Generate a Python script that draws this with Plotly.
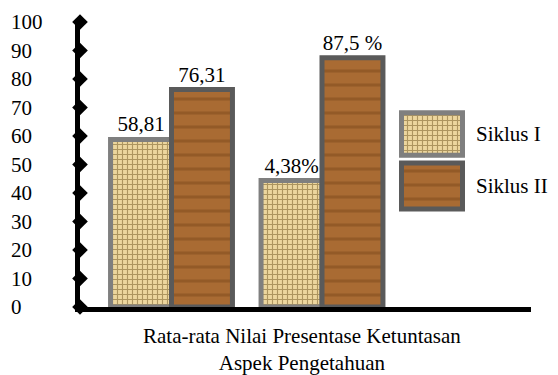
import plotly.graph_objects as go

# ---- data ----
categories = ["Rata-rata Nilai", "Presentase Ketuntasan"]
siklus1_values = [58.81, 44.38]
siklus1_labels = ["58,81", "4,38%"]
siklus2_values = [76.31, 87.5]
siklus2_labels = ["76,31", "87,5 %"]
series_names = ["Siklus I", "Siklus II"]
y_ticks = [0, 10, 20, 30, 40, 50, 60, 70, 80, 90, 100]
x_title = "Rata-rata Nilai Presentase Ketuntasan<br>Aspek Pengetahuan"

W, H = 558, 375
FONT = "Liberation Serif, Times New Roman, serif"
FS = 21

def px_x(p):
    return p / W

def px_y(p):
    return 1 - p / H

# plot-area geometry (pixels)
left, right, top, bottom = 80, 531, 22, 307

s1_pattern = dict(shape="+", fgcolor="#6e5420", bgcolor="#ecd69e", size=5, solidity=0.4)
s2_pattern = dict(shape="-", fgcolor="#7e4a1c", bgcolor="#a96b33", size=14, solidity=0.22)
s1_line = dict(color="#7f7f7f", width=5)
s2_line = dict(color="#5a5a5a", width=5)

fig = go.Figure()

fig.add_trace(go.Bar(
    x=categories, y=siklus1_values, name=series_names[0],
    text=siklus1_labels, textposition="outside", constraintext="none",
    textfont=dict(family=FONT, size=FS, color="black"),
    marker=dict(pattern=s1_pattern, line=s1_line), cliponaxis=False,
    showlegend=False, xaxis="x", yaxis="y"))
fig.add_trace(go.Bar(
    x=categories, y=siklus2_values, name=series_names[1],
    text=siklus2_labels, textposition="outside", constraintext="none",
    textfont=dict(family=FONT, size=FS, color="black"),
    marker=dict(pattern=s2_pattern, line=s2_line), cliponaxis=False,
    showlegend=False, xaxis="x", yaxis="y"))

# diamond tick markers on the value axis
fig.add_trace(go.Scatter(
    x=[0] * len(y_ticks), y=y_ticks, mode="markers",
    marker=dict(symbol="diamond", size=12, color="black"),
    cliponaxis=False, showlegend=False, hoverinfo="skip",
    xaxis="x3", yaxis="y3"))

# custom legend drawn as patterned boxes
fig.add_trace(go.Bar(
    y=[series_names[0]], x=[1], orientation="h", width=0.82,
    marker=dict(pattern=s1_pattern, line=s1_line),
    showlegend=False, hoverinfo="skip", xaxis="x2", yaxis="y2"))
fig.add_trace(go.Bar(
    y=[series_names[1]], x=[1], orientation="h", width=0.88,
    marker=dict(pattern=s2_pattern, line=s2_line),
    showlegend=False, hoverinfo="skip", xaxis="x2", yaxis="y2"))

xdom = [px_x(left), px_x(right)]
ydom = [px_y(bottom), px_y(top)]

# main category x: centers at 171.5 and 322 px
c0, c1 = 171.5, 322
u = c1 - c0
xr = [-(c0 - left) / u, (right - c0) / u]

lx0, lx1 = 395, 469
ib0, ib1 = 401.5, 462.5
lu = ib1 - ib0
ly0, ly1 = 212, 108

fig.update_layout(
    width=W, height=H,
    margin=dict(l=0, r=0, t=0, b=0, autoexpand=False),
    paper_bgcolor="white", plot_bgcolor="white",
    font=dict(family=FONT, size=FS, color="black"),
    barmode="group", bargap=0.19, bargroupgap=0,
    xaxis=dict(domain=xdom, range=xr, type="category", showticklabels=False,
               showline=True, linecolor="black", linewidth=5, ticks="",
               showgrid=False, zeroline=False, automargin=False),
    yaxis=dict(domain=ydom, range=[0, 100], showticklabels=False,
               showline=True, linecolor="black", linewidth=5, ticks="",
               showgrid=False, zeroline=False, automargin=False),
    xaxis3=dict(domain=xdom, range=[0, 1], visible=False, overlaying="x"),
    yaxis3=dict(range=[0, 100], overlaying="y", anchor="free", side="right",
                position=px_x(10), tickvals=y_ticks, ticks="",
                showline=False, showgrid=False, zeroline=False, automargin=False,
                tickfont=dict(family=FONT, size=FS, color="black")),
    xaxis2=dict(domain=[px_x(lx0), px_x(lx1)],
                range=[-(ib0 - lx0) / lu, 1 + (lx1 - ib1) / lu],
                visible=False, anchor="y2"),
    yaxis2=dict(domain=[px_y(ly0), px_y(ly1)], range=[-0.5, 1.5],
                type="category", categoryorder="array",
                categoryarray=[series_names[1], series_names[0]],
                anchor="x2", side="right", showline=False, ticks="",
                showgrid=False, zeroline=False, ticklabelstandoff=6, automargin=False,
                tickfont=dict(family=FONT, size=FS, color="black")),
    annotations=[dict(text=x_title, xref="paper", yref="paper",
                      x=px_x(301.5), y=px_y(322), xanchor="center", yanchor="top",
                      showarrow=False, font=dict(family=FONT, size=FS, color="black"))],
)

fig.write_html("out.html")
